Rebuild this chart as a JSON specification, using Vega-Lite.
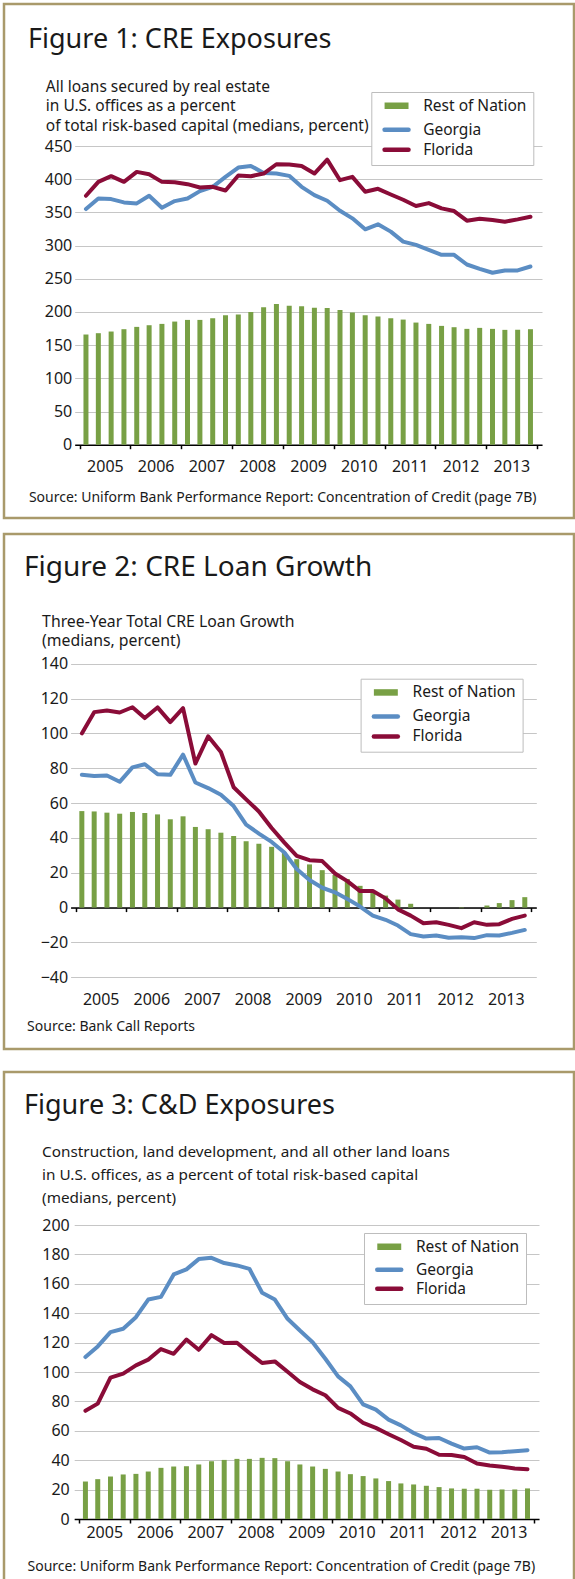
{
  "$schema": "https://vega.github.io/schema/vega-lite/v6.json",
  "padding": {"left": 2, "top": 2, "right": 0, "bottom": 0},
  "background": "white",
  "datasets": {
    "fig1": [
      {"date": "2005-02-15", "Rest of Nation": 166, "Georgia": 355, "Florida": 375},
      {"date": "2005-05-15", "Rest of Nation": 168, "Georgia": 371, "Florida": 396},
      {"date": "2005-08-15", "Rest of Nation": 170.5, "Georgia": 370, "Florida": 404.5},
      {"date": "2005-11-15", "Rest of Nation": 174, "Georgia": 365, "Florida": 396},
      {"date": "2006-02-15", "Rest of Nation": 177.5, "Georgia": 363.5, "Florida": 411},
      {"date": "2006-05-15", "Rest of Nation": 180, "Georgia": 375, "Florida": 407.5},
      {"date": "2006-08-15", "Rest of Nation": 182, "Georgia": 357, "Florida": 396},
      {"date": "2006-11-15", "Rest of Nation": 185.5, "Georgia": 367, "Florida": 395.5},
      {"date": "2007-02-15", "Rest of Nation": 188, "Georgia": 371, "Florida": 392.5},
      {"date": "2007-05-15", "Rest of Nation": 188, "Georgia": 382, "Florida": 387.5},
      {"date": "2007-08-15", "Rest of Nation": 190.5, "Georgia": 388.5, "Florida": 388.5},
      {"date": "2007-11-15", "Rest of Nation": 195, "Georgia": 403.5, "Florida": 383},
      {"date": "2008-02-15", "Rest of Nation": 196, "Georgia": 417.5, "Florida": 405.5},
      {"date": "2008-05-15", "Rest of Nation": 200, "Georgia": 420, "Florida": 404.5},
      {"date": "2008-08-15", "Rest of Nation": 207, "Georgia": 409.5, "Florida": 408.5},
      {"date": "2008-11-15", "Rest of Nation": 212, "Georgia": 408.5, "Florida": 422.5},
      {"date": "2009-02-15", "Rest of Nation": 209.5, "Georgia": 405, "Florida": 422},
      {"date": "2009-05-15", "Rest of Nation": 208.5, "Georgia": 388.5, "Florida": 420},
      {"date": "2009-08-15", "Rest of Nation": 206.5, "Georgia": 376, "Florida": 408.5},
      {"date": "2009-11-15", "Rest of Nation": 206, "Georgia": 367.5, "Florida": 429.5},
      {"date": "2010-02-15", "Rest of Nation": 203, "Georgia": 352.5, "Florida": 398.5},
      {"date": "2010-05-15", "Rest of Nation": 199, "Georgia": 341, "Florida": 403.5},
      {"date": "2010-08-15", "Rest of Nation": 195, "Georgia": 324.5, "Florida": 381},
      {"date": "2010-11-15", "Rest of Nation": 193, "Georgia": 332, "Florida": 385.5},
      {"date": "2011-02-15", "Rest of Nation": 190.5, "Georgia": 321, "Florida": 377},
      {"date": "2011-05-15", "Rest of Nation": 188.5, "Georgia": 306, "Florida": 369},
      {"date": "2011-08-15", "Rest of Nation": 184, "Georgia": 301, "Florida": 359.5},
      {"date": "2011-11-15", "Rest of Nation": 182, "Georgia": 293.5, "Florida": 364},
      {"date": "2012-02-15", "Rest of Nation": 179, "Georgia": 286, "Florida": 356},
      {"date": "2012-05-15", "Rest of Nation": 177, "Georgia": 286, "Florida": 352},
      {"date": "2012-08-15", "Rest of Nation": 174.5, "Georgia": 271.5, "Florida": 337.5},
      {"date": "2012-11-15", "Rest of Nation": 176, "Georgia": 265, "Florida": 340.5},
      {"date": "2013-02-15", "Rest of Nation": 174.5, "Georgia": 259, "Florida": 338.5},
      {"date": "2013-05-15", "Rest of Nation": 173, "Georgia": 262.5, "Florida": 336},
      {"date": "2013-08-15", "Rest of Nation": 173, "Georgia": 262.5, "Florida": 339.5},
      {"date": "2013-11-15", "Rest of Nation": 174, "Georgia": 268.5, "Florida": 343.5}
    ],
    "fig2": [
      {"date": "2005-02-15", "Rest of Nation": 55.4, "Georgia": 76.2, "Florida": 100},
      {"date": "2005-05-15", "Rest of Nation": 55.2, "Georgia": 75.6, "Florida": 112.2},
      {"date": "2005-08-15", "Rest of Nation": 54.5, "Georgia": 75.8, "Florida": 113.1},
      {"date": "2005-11-15", "Rest of Nation": 53.9, "Georgia": 72.2, "Florida": 112},
      {"date": "2006-02-15", "Rest of Nation": 54.9, "Georgia": 80.5, "Florida": 115},
      {"date": "2006-05-15", "Rest of Nation": 54.3, "Georgia": 82.3, "Florida": 108.8},
      {"date": "2006-08-15", "Rest of Nation": 53.5, "Georgia": 76.6, "Florida": 114.9},
      {"date": "2006-11-15", "Rest of Nation": 50.7, "Georgia": 76.2, "Florida": 106.5},
      {"date": "2007-02-15", "Rest of Nation": 52.4, "Georgia": 87.8, "Florida": 114.5},
      {"date": "2007-05-15", "Rest of Nation": 46.3, "Georgia": 71.8, "Florida": 82.7},
      {"date": "2007-08-15", "Rest of Nation": 45, "Georgia": 68.6, "Florida": 98.3},
      {"date": "2007-11-15", "Rest of Nation": 43, "Georgia": 64.8, "Florida": 89.3},
      {"date": "2008-02-15", "Rest of Nation": 41.1, "Georgia": 58.3, "Florida": 69.1},
      {"date": "2008-05-15", "Rest of Nation": 38.1, "Georgia": 47.6, "Florida": 62.1},
      {"date": "2008-08-15", "Rest of Nation": 36.6, "Georgia": 42.5, "Florida": 55.2},
      {"date": "2008-11-15", "Rest of Nation": 34.9, "Georgia": 37.7, "Florida": 45.7},
      {"date": "2009-02-15", "Rest of Nation": 31.6, "Georgia": 31.6, "Florida": 37.3},
      {"date": "2009-05-15", "Rest of Nation": 27.8, "Georgia": 22.1, "Florida": 29.7},
      {"date": "2009-08-15", "Rest of Nation": 24.8, "Georgia": 15.8, "Florida": 27.2},
      {"date": "2009-11-15", "Rest of Nation": 21.5, "Georgia": 11.4, "Florida": 26.7},
      {"date": "2010-02-15", "Rest of Nation": 18.7, "Georgia": 8.8, "Florida": 19.6},
      {"date": "2010-05-15", "Rest of Nation": 16.4, "Georgia": 5, "Florida": 15.2},
      {"date": "2010-08-15", "Rest of Nation": 12.5, "Georgia": 0.6, "Florida": 9.5},
      {"date": "2010-11-15", "Rest of Nation": 9, "Georgia": -4.6, "Florida": 9.5},
      {"date": "2011-02-15", "Rest of Nation": 6.9, "Georgia": -7, "Florida": 5.3},
      {"date": "2011-05-15", "Rest of Nation": 4.6, "Georgia": -10.3, "Florida": -1},
      {"date": "2011-08-15", "Rest of Nation": 2.2, "Georgia": -15.2, "Florida": -4.6},
      {"date": "2011-11-15", "Rest of Nation": 0, "Georgia": -16.6, "Florida": -9},
      {"date": "2012-02-15", "Rest of Nation": 0, "Georgia": -16, "Florida": -8.4},
      {"date": "2012-05-15", "Rest of Nation": 0, "Georgia": -17.3, "Florida": -9.9},
      {"date": "2012-08-15", "Rest of Nation": -0.3, "Georgia": -17, "Florida": -11.8},
      {"date": "2012-11-15", "Rest of Nation": 0, "Georgia": -17.5, "Florida": -8.4},
      {"date": "2013-02-15", "Rest of Nation": 1.2, "Georgia": -15.8, "Florida": -9.9},
      {"date": "2013-05-15", "Rest of Nation": 2.6, "Georgia": -16, "Florida": -9.5},
      {"date": "2013-08-15", "Rest of Nation": 4.3, "Georgia": -14.5, "Florida": -6.5},
      {"date": "2013-11-15", "Rest of Nation": 6, "Georgia": -12.8, "Florida": -4.6}
    ],
    "fig3": [
      {"date": "2005-02-15", "Rest of Nation": 25.5, "Georgia": 110.2, "Florida": 73.6},
      {"date": "2005-05-15", "Rest of Nation": 27.1, "Georgia": 117.4, "Florida": 78.5},
      {"date": "2005-08-15", "Rest of Nation": 28.9, "Georgia": 127.1, "Florida": 96.2},
      {"date": "2005-11-15", "Rest of Nation": 30.3, "Georgia": 129.4, "Florida": 98.9},
      {"date": "2006-02-15", "Rest of Nation": 30.7, "Georgia": 137.3, "Florida": 104.5},
      {"date": "2006-05-15", "Rest of Nation": 32.3, "Georgia": 149.3, "Florida": 108.4},
      {"date": "2006-08-15", "Rest of Nation": 34.8, "Georgia": 151.1, "Florida": 115.6},
      {"date": "2006-11-15", "Rest of Nation": 35.7, "Georgia": 166.4, "Florida": 112.4},
      {"date": "2007-02-15", "Rest of Nation": 35.9, "Georgia": 169.8, "Florida": 122.1},
      {"date": "2007-05-15", "Rest of Nation": 37.1, "Georgia": 176.8, "Florida": 115.1},
      {"date": "2007-08-15", "Rest of Nation": 39.3, "Georgia": 177.7, "Florida": 125.1},
      {"date": "2007-11-15", "Rest of Nation": 40.2, "Georgia": 174.1, "Florida": 119.7},
      {"date": "2008-02-15", "Rest of Nation": 40.9, "Georgia": 172.5, "Florida": 119.9},
      {"date": "2008-05-15", "Rest of Nation": 40.9, "Georgia": 170.2, "Florida": 112.9},
      {"date": "2008-08-15", "Rest of Nation": 41.6, "Georgia": 153.9, "Florida": 106.1},
      {"date": "2008-11-15", "Rest of Nation": 41.4, "Georgia": 149.3, "Florida": 107.2},
      {"date": "2009-02-15", "Rest of Nation": 39.3, "Georgia": 136.2, "Florida": 100.2},
      {"date": "2009-05-15", "Rest of Nation": 37.1, "Georgia": 128.2, "Florida": 93.2},
      {"date": "2009-08-15", "Rest of Nation": 35.7, "Georgia": 120.3, "Florida": 88.2},
      {"date": "2009-11-15", "Rest of Nation": 34.1, "Georgia": 109, "Florida": 84.2},
      {"date": "2010-02-15", "Rest of Nation": 32.3, "Georgia": 97, "Florida": 75.6},
      {"date": "2010-05-15", "Rest of Nation": 30.5, "Georgia": 90.2, "Florida": 71.8},
      {"date": "2010-08-15", "Rest of Nation": 29.2, "Georgia": 78, "Florida": 65.4},
      {"date": "2010-11-15", "Rest of Nation": 27.6, "Georgia": 74.4, "Florida": 62},
      {"date": "2011-02-15", "Rest of Nation": 25.8, "Georgia": 67.6, "Florida": 57.7},
      {"date": "2011-05-15", "Rest of Nation": 24.2, "Georgia": 63.7, "Florida": 53.7},
      {"date": "2011-08-15", "Rest of Nation": 23.5, "Georgia": 58.5, "Florida": 49.2},
      {"date": "2011-11-15", "Rest of Nation": 22.6, "Georgia": 54.7, "Florida": 47.8},
      {"date": "2012-02-15", "Rest of Nation": 21.7, "Georgia": 55.1, "Florida": 43.7},
      {"date": "2012-05-15", "Rest of Nation": 20.8, "Georgia": 51.3, "Florida": 43.5},
      {"date": "2012-08-15", "Rest of Nation": 20.6, "Georgia": 47.9, "Florida": 42.2},
      {"date": "2012-11-15", "Rest of Nation": 20.6, "Georgia": 48.8, "Florida": 37.7},
      {"date": "2013-02-15", "Rest of Nation": 19.9, "Georgia": 45.2, "Florida": 36.4},
      {"date": "2013-05-15", "Rest of Nation": 20.1, "Georgia": 45.4, "Florida": 35.5},
      {"date": "2013-08-15", "Rest of Nation": 20.1, "Georgia": 46.1, "Florida": 34.4},
      {"date": "2013-11-15", "Rest of Nation": 20.8, "Georgia": 46.8, "Florida": 33.9}
    ]
  },
  "spacing": 19,
  "resolve": {"scale": {"color": "independent"}},
  "vconcat": [
    {
      "spacing": 12,
      "resolve": {"scale": {"color": "independent"}},
      "vconcat": [
        {
          "width": 570,
          "height": 514,
          "data": {"name": "fig1"},
          "transform": [{"fold": ["Rest of Nation", "Georgia", "Florida"], "as": ["series", "value"]}],
          "title": {"text": "Figure 1: CRE Exposures", "dx": 24, "offset": -50},
          "encoding": {
            "y": {
              "field": "value", "type": "quantitative",
              "scale": {"domain": [0, 450], "range": [440.7, 142], "nice": false},
              "axis": {
                "orient": "left", "offset": -70.7, "values": [0, 50, 100, 150, 200, 250, 300, 350, 400, 450],
                "grid": true, "domain": false, "ticks": false, "tickSize": 0, "labelPadding": 3,
                "title": ["All loans secured by real estate", "in U.S. offices as a percent", "of total risk-based capital (medians, percent)"],
                "titleX": -29.4, "titleY": 87.3, "titleLineHeight": 19.5, "titleFontSize": 15.5
              }
            },
            "color": {
              "field": "series", "type": "nominal",
              "scale": {"domain": ["Rest of Nation", "Georgia", "Florida"], "range": ["#78a045", "#5b8dc3", "#8a0c38"]},
              "legend": {
                "legendX": 367.3, "legendY": 88, "rowPadding": 1,
                "encode": {"symbols": {"update": {
                  "strokeWidth": {"signal": "datum.value === 'Rest of Nation' ? 6.5 : 4.5"},
                  "strokeCap": {"signal": "datum.value === 'Rest of Nation' ? 'butt' : 'round'"}
                }}}
              }
            }
          },
          "layer": [
            {
              "transform": [{"filter": "datum.series === 'Rest of Nation'"}],
              "mark": {"type": "bar", "size": 5},
              "encoding": {
                "x": {
                  "field": "date", "type": "temporal",
                  "scale": {"type": "utc", "domain": [{"year": 2005, "month": 1, "date": 1, "utc": true}, {"year": 2014, "month": 1, "date": 1, "utc": true}], "range": [70.7, 538], "nice": false},
                  "axis": {
                    "orient": "bottom", "offset": -73.3, "labels": false, "grid": false, "title": null,
                    "values": [{"year": 2005, "month": 1, "date": 1, "utc": true}, {"year": 2006, "month": 1, "date": 1, "utc": true}, {"year": 2007, "month": 1, "date": 1, "utc": true}, {"year": 2008, "month": 1, "date": 1, "utc": true}, {"year": 2009, "month": 1, "date": 1, "utc": true}, {"year": 2010, "month": 1, "date": 1, "utc": true}, {"year": 2011, "month": 1, "date": 1, "utc": true}, {"year": 2012, "month": 1, "date": 1, "utc": true}, {"year": 2013, "month": 1, "date": 1, "utc": true}, {"year": 2014, "month": 1, "date": 1, "utc": true}]
                  }
                }
              }
            },
            {
              "transform": [{"filter": "datum.series !== 'Rest of Nation'"}],
              "mark": {"type": "line", "strokeWidth": 4, "strokeJoin": "round"},
              "encoding": {
                "x": {
                  "field": "date", "type": "temporal",
                  "axis": {
                    "orient": "bottom", "offset": -73.3, "domain": false, "ticks": false, "tickSize": 0, "grid": false,
                    "labelPadding": 13.9, "format": "%Y",
                    "values": [{"year": 2005, "month": 7, "date": 1, "utc": true}, {"year": 2006, "month": 7, "date": 1, "utc": true}, {"year": 2007, "month": 7, "date": 1, "utc": true}, {"year": 2008, "month": 7, "date": 1, "utc": true}, {"year": 2009, "month": 7, "date": 1, "utc": true}, {"year": 2010, "month": 7, "date": 1, "utc": true}, {"year": 2011, "month": 7, "date": 1, "utc": true}, {"year": 2012, "month": 7, "date": 1, "utc": true}, {"year": 2013, "month": 7, "date": 1, "utc": true}],
                    "title": "Source: Uniform Bank Performance Report: Concentration of Credit (page 7B)",
                    "titleX": 24.4, "titleY": 56.6
                  }
                }
              }
            }
          ],
          "resolve": {"axis": {"x": "independent"}}
        },
        {
          "width": 570,
          "height": 515,
          "data": {"name": "fig2"},
          "transform": [{"fold": ["Rest of Nation", "Georgia", "Florida"], "as": ["series", "value"]}],
          "title": {"text": "Figure 2: CRE Loan Growth", "dx": 20, "offset": -47.5, "fontSize": 28},
          "encoding": {
            "y": {
              "field": "value", "type": "quantitative",
              "scale": {"domain": [-40, 140], "range": [443.3, 129.7], "nice": false, "zero": false},
              "axis": {
                "orient": "left", "offset": -66.6, "values": [-40, -20, 0, 20, 40, 60, 80, 100, 120, 140],
                "grid": true, "domain": false, "ticks": false, "tickSize": 0, "labelPadding": 3,
                "title": ["Three-Year Total CRE Loan Growth", "(medians, percent)"],
                "titleX": -29, "titleY": 92.7, "titleLineHeight": 19, "titleFontSize": 15.8
              }
            },
            "color": {
              "field": "series", "type": "nominal",
              "scale": {"domain": ["Rest of Nation", "Georgia", "Florida"], "range": ["#78a045", "#5b8dc3", "#8a0c38"]},
              "legend": {
                "legendX": 356.6, "legendY": 144.7, "rowPadding": 1,
                "encode": {"symbols": {"update": {
                  "strokeWidth": {"signal": "datum.value === 'Rest of Nation' ? 6.5 : 4.5"},
                  "strokeCap": {"signal": "datum.value === 'Rest of Nation' ? 'butt' : 'round'"}
                }}}
              }
            }
          },
          "layer": [
            {
              "transform": [{"filter": "datum.series === 'Rest of Nation'"}],
              "mark": {"type": "bar", "size": 5},
              "encoding": {
                "x": {
                  "field": "date", "type": "temporal",
                  "scale": {"type": "utc", "domain": [{"year": 2005, "month": 1, "date": 1, "utc": true}, {"year": 2014, "month": 1, "date": 1, "utc": true}], "range": [66.6, 532.3], "nice": false},
                  "axis": {
                    "orient": "bottom", "offset": -141.4, "labels": false, "grid": false, "title": null,
                    "values": [{"year": 2005, "month": 1, "date": 1, "utc": true}, {"year": 2006, "month": 1, "date": 1, "utc": true}, {"year": 2007, "month": 1, "date": 1, "utc": true}, {"year": 2008, "month": 1, "date": 1, "utc": true}, {"year": 2009, "month": 1, "date": 1, "utc": true}, {"year": 2010, "month": 1, "date": 1, "utc": true}, {"year": 2011, "month": 1, "date": 1, "utc": true}, {"year": 2012, "month": 1, "date": 1, "utc": true}, {"year": 2013, "month": 1, "date": 1, "utc": true}, {"year": 2014, "month": 1, "date": 1, "utc": true}]
                  }
                }
              }
            },
            {
              "transform": [{"filter": "datum.series !== 'Rest of Nation'"}],
              "mark": {"type": "line", "strokeWidth": 4, "strokeJoin": "round"},
              "encoding": {
                "x": {
                  "field": "date", "type": "temporal",
                  "axis": {
                    "orient": "bottom", "offset": -71.7, "domain": false, "ticks": false, "tickSize": 0, "grid": false,
                    "labelPadding": 13.7, "format": "%Y",
                    "values": [{"year": 2005, "month": 7, "date": 1, "utc": true}, {"year": 2006, "month": 7, "date": 1, "utc": true}, {"year": 2007, "month": 7, "date": 1, "utc": true}, {"year": 2008, "month": 7, "date": 1, "utc": true}, {"year": 2009, "month": 7, "date": 1, "utc": true}, {"year": 2010, "month": 7, "date": 1, "utc": true}, {"year": 2011, "month": 7, "date": 1, "utc": true}, {"year": 2012, "month": 7, "date": 1, "utc": true}, {"year": 2013, "month": 7, "date": 1, "utc": true}],
                    "title": "Source: Bank Call Reports",
                    "titleX": 22.6, "titleY": 52.7
                  }
                }
              }
            }
          ],
          "resolve": {"axis": {"x": "independent"}}
        }
      ]
    },
    {
      "width": 570,
      "height": 515,
      "data": {"name": "fig3"},
      "transform": [{"fold": ["Rest of Nation", "Georgia", "Florida"], "as": ["series", "value"]}],
      "title": {"text": "Figure 3: C&D Exposures", "dx": 20, "offset": -47.5},
      "encoding": {
        "y": {
          "field": "value", "type": "quantitative",
          "scale": {"domain": [0, 200], "range": [447, 153], "nice": false},
          "axis": {
            "orient": "left", "offset": -70.2, "values": [0, 20, 40, 60, 80, 100, 120, 140, 160, 180, 200],
            "grid": true, "domain": false, "ticks": false, "tickSize": 0, "labelPadding": 5,
            "title": ["Construction, land development, and all other land loans", "in U.S. offices, as a percent of total risk-based capital", "(medians, percent)"],
            "titleX": -32.6, "titleY": 84.7, "titleLineHeight": 23, "titleFontSize": 15.3
          }
        },
        "color": {
          "field": "series", "type": "nominal",
          "scale": {"domain": ["Rest of Nation", "Georgia", "Florida"], "range": ["#78a045", "#5b8dc3", "#8a0c38"]},
          "legend": {
            "legendX": 360, "legendY": 161, "rowPadding": 0,
            "encode": {"symbols": {"update": {
              "strokeWidth": {"signal": "datum.value === 'Rest of Nation' ? 6.5 : 4.5"},
              "strokeCap": {"signal": "datum.value === 'Rest of Nation' ? 'butt' : 'round'"}
            }}}
          }
        }
      },
      "layer": [
        {
          "transform": [{"filter": "datum.series === 'Rest of Nation'"}],
          "mark": {"type": "bar", "size": 5},
          "encoding": {
            "x": {
              "field": "date", "type": "temporal",
              "scale": {"type": "utc", "domain": [{"year": 2005, "month": 1, "date": 1, "utc": true}, {"year": 2014, "month": 1, "date": 1, "utc": true}], "range": [70.2, 535], "nice": false},
              "axis": {
                "orient": "bottom", "offset": -68, "labels": false, "grid": false, "title": null,
                "values": [{"year": 2005, "month": 1, "date": 1, "utc": true}, {"year": 2006, "month": 1, "date": 1, "utc": true}, {"year": 2007, "month": 1, "date": 1, "utc": true}, {"year": 2008, "month": 1, "date": 1, "utc": true}, {"year": 2009, "month": 1, "date": 1, "utc": true}, {"year": 2010, "month": 1, "date": 1, "utc": true}, {"year": 2011, "month": 1, "date": 1, "utc": true}, {"year": 2012, "month": 1, "date": 1, "utc": true}, {"year": 2013, "month": 1, "date": 1, "utc": true}, {"year": 2014, "month": 1, "date": 1, "utc": true}]
              }
            }
          }
        },
        {
          "transform": [{"filter": "datum.series !== 'Rest of Nation'"}],
          "mark": {"type": "line", "strokeWidth": 4, "strokeJoin": "round"},
          "encoding": {
            "x": {
              "field": "date", "type": "temporal",
              "axis": {
                "orient": "bottom", "offset": -68, "domain": false, "ticks": false, "tickSize": 0, "grid": false,
                "labelPadding": 5, "format": "%Y",
                "values": [{"year": 2005, "month": 7, "date": 1, "utc": true}, {"year": 2006, "month": 7, "date": 1, "utc": true}, {"year": 2007, "month": 7, "date": 1, "utc": true}, {"year": 2008, "month": 7, "date": 1, "utc": true}, {"year": 2009, "month": 7, "date": 1, "utc": true}, {"year": 2010, "month": 7, "date": 1, "utc": true}, {"year": 2011, "month": 7, "date": 1, "utc": true}, {"year": 2012, "month": 7, "date": 1, "utc": true}, {"year": 2013, "month": 7, "date": 1, "utc": true}],
                "title": "Source: Uniform Bank Performance Report: Concentration of Credit (page 7B)",
                "titleX": 23, "titleY": 51.7
              }
            }
          }
        }
      ],
      "resolve": {"axis": {"x": "independent"}}
    }
  ],
  "config": {
    "font": "Noto Sans",
    "view": {"stroke": "#a99a6b", "strokeWidth": 2.5},
    "title": {"anchor": "start", "frame": "group", "baseline": "alphabetic", "fontSize": 27, "fontWeight": "normal", "color": "#1a1a1a", "font": "Noto Sans"},
    "axis": {
      "labelFont": "Noto Sans", "labelFontSize": 16, "labelColor": "#1a1a1a",
      "labelFlush": false, "labelOverlap": false,
      "titleFont": "Noto Sans", "titleFontWeight": "normal", "titleColor": "#1a1a1a", "titleFontSize": 14,
      "titleAngle": 0, "titleAlign": "left", "titleBaseline": "alphabetic",
      "gridColor": "#c6c6c6", "gridWidth": 1,
      "domainColor": "#000000", "domainWidth": 1.5,
      "tickColor": "#000000", "tickWidth": 1.5, "tickSize": 4
    },
    "legend": {
      "orient": "none", "title": null, "direction": "vertical",
      "labelFont": "Noto Sans", "labelFontSize": 15.5, "labelColor": "#1a1a1a", "labelOffset": 18.9,
      "symbolType": "M-1.33,0L1.33,0", "symbolSize": 324, "symbolStrokeWidth": 4.5, "symbolOffset": 11.5,
      "padding": 6, "strokeColor": "#bdbdbd", "fillColor": "#ffffff",
      "symbolLimit": 0,
      "symbolFillColor": "transparent"
    },
    "line": {"strokeCap": "round"}
  }
}
